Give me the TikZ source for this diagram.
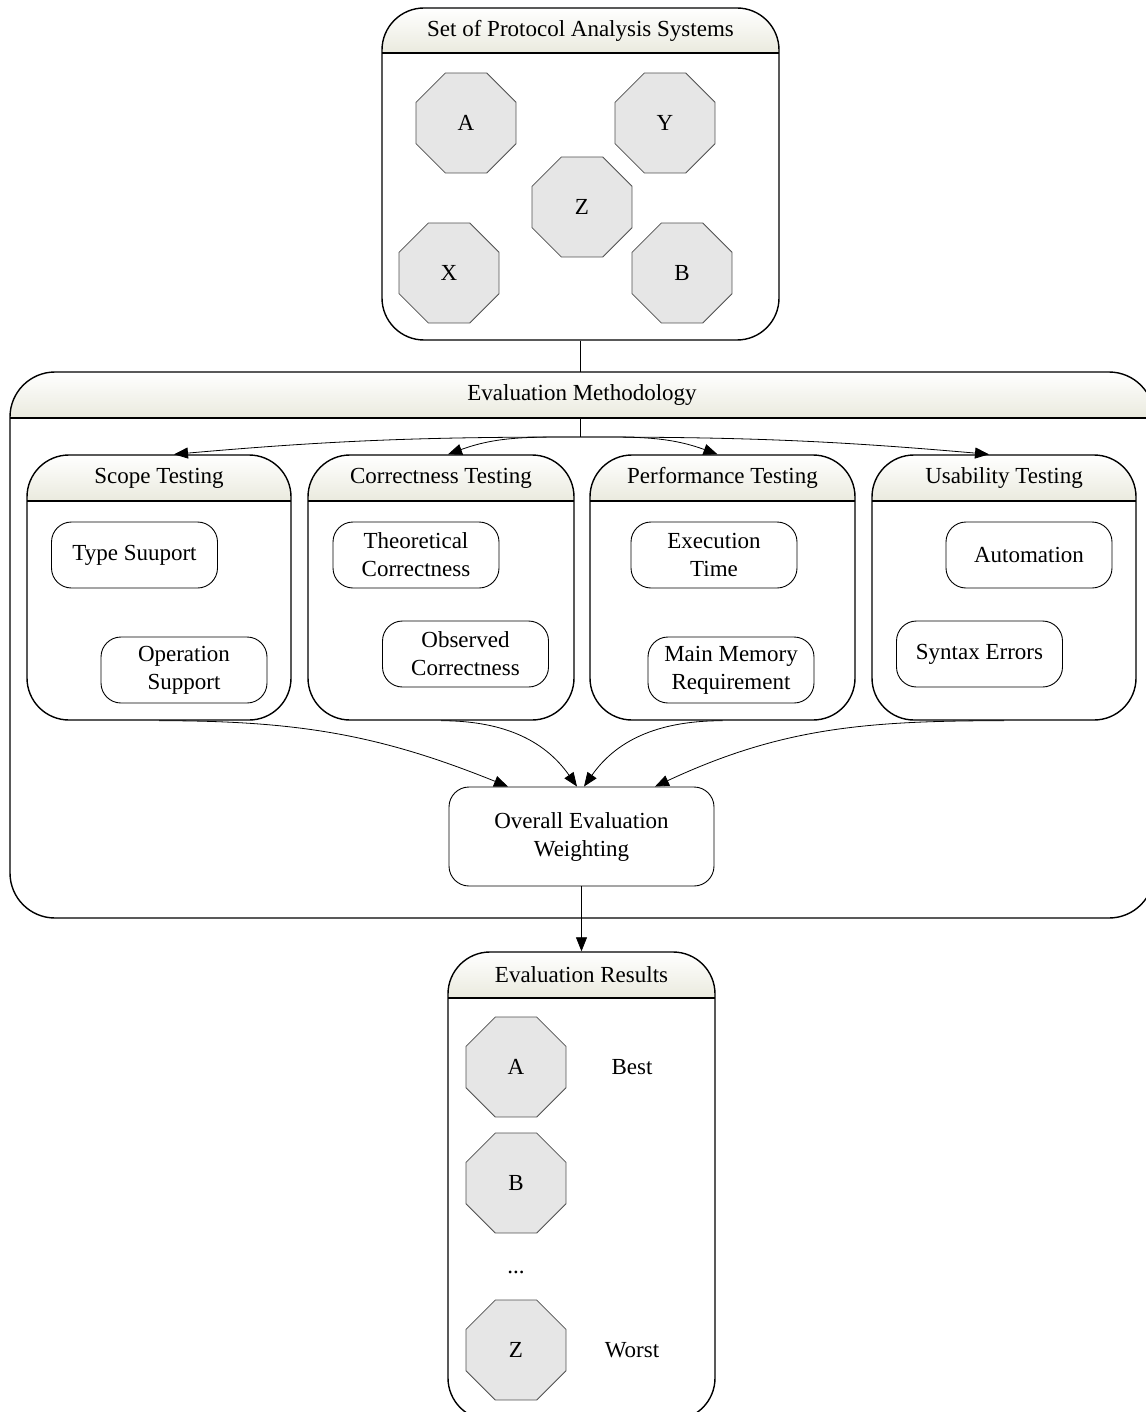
\documentclass[tikz,border=0pt]{standalone}
\usepackage{fontspec}
\setmainfont{Liberation Serif}
\usetikzlibrary{shapes.geometric,arrows.meta,calc}
\pgfdeclarelayer{paper}
\pgfdeclarelayer{under}
\pgfsetlayers{paper,under,main}
\definecolor{hdbot}{RGB}{234,234,222}
\definecolor{octfill}{RGB}{230,230,230}
\definecolor{octline}{RGB}{80,80,80}
\tikzset{
  txt/.style={font=\fontsize{23}{28}\selectfont, align=center, inner sep=0pt},
  ctrbox/.style={draw, line width=1.4pt, inner sep=0pt},
  sbox/.style={draw, line width=0.9pt, rounded corners=20pt, minimum width=166pt, minimum height=66pt, inner sep=0pt, align=center, font=\fontsize{23}{28}\selectfont},
  oct/.style={regular polygon, regular polygon sides=8, minimum size=108.2pt, inner sep=0pt, fill=octfill, draw=octline, line width=0.8pt, font=\fontsize{23}{28}\selectfont},
  arr/.style={draw, line width=0.8pt, -{Triangle[length=14pt,width=11pt]}},
  plainline/.style={draw, line width=0.8pt}
}
% name, x1, ytop, x2, ybottom, yheader, radius, title
\newcommand\drawctr[8]{%
  \begin{scope}
    \clip[rounded corners=#7pt] (#2,-#3) rectangle (#4,-#5);
    \shade[top color=white, bottom color=hdbot] (#2,-#3) rectangle (#4,-#6);
  \end{scope}
  \draw[line width=1.4pt] (#2,-#6) -- (#4,-#6);
  \node[ctrbox, rounded corners=#7pt, minimum width={(#4-#2)*1pt}, minimum height={(#5-#3)*1pt}] (#1) at ({(#2+#4)/2},{-(#3+#5)/2}) {};
  \node[txt] (#1t) at ({(#2+#4)/2},{-(#3+#6)/2}) {#8};
}
\begin{document}
\begin{tikzpicture}[x=1pt,y=1pt]
\useasboundingbox (0,0) rectangle (1145,-1412);
\begin{pgfonlayer}{paper}
  \fill[white] (0,0) rectangle (1145,-1412);
\end{pgfonlayer}

% containers
\drawctr{sets}{382}{8}{779}{340}{53}{42}{Set of Protocol Analysis Systems}
\drawctr{evm}{10}{372}{1154}{918}{418}{45}{Evaluation Methodology}
\drawctr{scp}{27}{455}{291}{720}{501}{42}{Scope Testing}
\drawctr{cor}{308}{455}{574}{720}{501}{42}{Correctness Testing}
\drawctr{prf}{590}{455}{855}{720}{501}{42}{Performance Testing}
\drawctr{usb}{872}{455}{1136}{720}{501}{42}{Usability Testing}
\drawctr{evr}{448}{952}{715}{1420}{998}{42}{Evaluation Results}

% systems
\node[oct] (sA) at (466,-123) {A};
\node[oct] (sY) at (665,-123) {Y};
\node[oct] (sZ) at (582,-207) {Z};
\node[oct] (sX) at (449,-273) {X};
\node[oct] (sB) at (682,-273) {B};

% criteria
\node[sbox] (typ) at (134.5,-555) {Type Suuport};
\node[sbox] (ops) at (184,-670) {Operation\\Support};
\node[sbox] (thc) at (416,-555) {Theoretical\\Correctness};
\node[sbox] (obc) at (465.5,-654) {Observed\\Correctness};
\node[sbox] (ext) at (714,-555) {Execution\\Time};
\node[sbox] (mmr) at (731,-670) {Main Memory\\Requirement};
\node[sbox] (aut) at (1029,-555) {Automation};
\node[sbox] (syn) at (979.5,-654) {Syntax Errors};

\node[draw, line width=0.9pt, rounded corners=20pt, minimum width=265pt, minimum height=99pt, inner sep=0pt, align=center, font=\fontsize{23}{28}\selectfont] (ovr) at (581.5,-836.5) {Overall Evaluation\\Weighting};

% results
\node[oct] (rA) at (516,-1067) {A};
\node[oct] (rB) at (516,-1183) {B};
\node[txt] (rdots) at (516,-1272) {...};
\node[oct] (rZ) at (516,-1350) {Z};
\node[txt] (best) at (632,-1067) {Best};
\node[txt] (worst) at (632,-1350) {Worst};

% connectors
\coordinate (jy) at (0,-437);
\coordinate (j) at (sets.south |- jy);
\begin{pgfonlayer}{under}
  \draw[plainline] (sets.south) -- (j);
\end{pgfonlayer}
\draw[arr] (j) to[out=180,in=5] ([xshift=15pt]scp.north);
\draw[arr] (j) to[out=180,in=20] ([xshift=7pt]cor.north);
\draw[arr] (j) to[out=0,in=160] ([xshift=-5pt]prf.north);
\draw[arr] (j) to[out=0,in=175] ([xshift=-15pt]usb.north);

\draw[arr] (scp.south) to[out=0,in=158] ([xshift=-73.5pt]ovr.north);
\draw[arr] (cor.south) to[out=0,in=125] ([xshift=-4.5pt]ovr.north);
\draw[arr] (prf.south) to[out=180,in=55] ([xshift=2.5pt]ovr.north);
\draw[arr] (usb.south) to[out=180,in=25] ([xshift=73.5pt]ovr.north);

\draw[arr] (ovr.south) -- (evr.north);
\end{tikzpicture}
\end{document}
